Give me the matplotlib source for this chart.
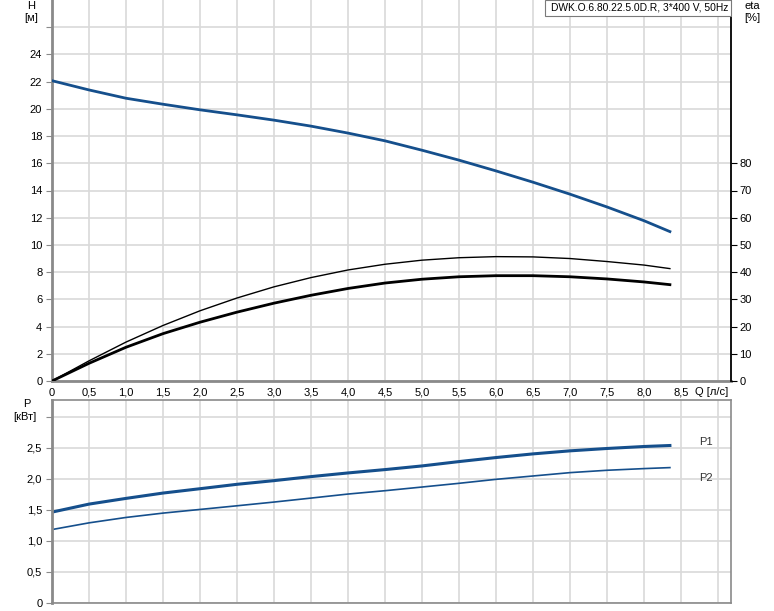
import numpy as np
import matplotlib
matplotlib.use("Agg")
import matplotlib.pyplot as plt

plt.rcParams["font.family"] = ["Liberation Sans", "DejaVu Sans"]

# DATA
q     = [0, 0.5, 1.0, 1.5, 2.0, 2.5, 3.0, 3.5, 4.0, 4.5, 5.0, 5.5, 6.0, 6.5, 7.0, 7.5, 8.0, 8.35]
head  = [22.07, 21.39, 20.78, 20.34, 19.93, 19.56, 19.17, 18.73, 18.22,
         17.65, 16.96, 16.23, 15.44, 14.61, 13.73, 12.79, 11.78, 10.98]
eta_p = [0, 7.4, 14.3, 20.4, 25.8, 30.5, 34.6, 38.0, 40.8,
         42.9, 44.4, 45.3, 45.7, 45.6, 45.0, 43.9, 42.6, 41.3]
eta_t = [0, 6.5, 12.4, 17.4, 21.6, 25.3, 28.6, 31.5, 34.0,
         36.0, 37.4, 38.3, 38.7, 38.7, 38.3, 37.5, 36.4, 35.4]
p1    = [1.464, 1.593, 1.685, 1.771, 1.841, 1.912, 1.971, 2.036, 2.095,
         2.149, 2.208, 2.278, 2.343, 2.402, 2.451, 2.489, 2.521, 2.537]
p2    = [1.183, 1.291, 1.378, 1.448, 1.507, 1.566, 1.626, 1.690, 1.755,
         1.809, 1.868, 1.928, 1.992, 2.046, 2.100, 2.138, 2.165, 2.181]

q_ticks   = [0, 0.5, 1.0, 1.5, 2.0, 2.5, 3.0, 3.5, 4.0, 4.5, 5.0, 5.5, 6.0, 6.5, 7.0, 7.5, 8.0, 8.5, 9.0]
q_labels  = ["0", "0,5", "1,0", "1,5", "2,0", "2,5", "3,0", "3,5", "4,0", "4,5",
             "5,0", "5,5", "6,0", "6,5", "7,0", "7,5", "8,0", "8,5", ""]
h_ticks   = [0, 2, 4, 6, 8, 10, 12, 14, 16, 18, 20, 22, 24, 26]
h_labels  = ["0", "2", "4", "6", "8", "10", "12", "14", "16", "18", "20", "22", "24", ""]
eta_ticks = [0, 10, 20, 30, 40, 50, 60, 70, 80]
p_ticks   = [0, 0.5, 1.0, 1.5, 2.0, 2.5, 3.0]
p_labels  = ["0", "0,5", "1,0", "1,5", "2,0", "2,5", ""]

TITLE = "DWK.O.6.80.22.5.0D.R, 3*400 V, 50Hz"

W, H = 774, 611
BLUE = "#154f8c"
GRID = "#d9d9d9"
SPINE = "#8a8a8a"
XMAX = 679 / 74.0

fig = plt.figure(figsize=(W / 100, H / 100), dpi=100)

def px_axes(l, t, r, b):
    return fig.add_axes([l / W, 1 - b / H, (r - l) / W, (b - t) / H])

ax = px_axes(52, 0, 731, 381)
ax2 = ax.twinx()
bx = px_axes(52, 400, 731, 603)

# ── top panel: head + efficiency ───────────────────────────
ax.plot(q, head, color=BLUE, lw=2.0, zorder=3)
ax.set_xlim(0, XMAX)
ax.set_ylim(0, 28.0)
ax.set_xticks(q_ticks)
ax.set_xticklabels(q_labels, fontsize=8)
ax.set_yticks(h_ticks)
ax.set_yticklabels(h_labels, fontsize=8)
ax.grid(True, color=GRID, lw=1.2)
ax.set_axisbelow(True)
ax.tick_params(axis="x", length=0, pad=5)
ax.tick_params(axis="y", length=4, color=SPINE, pad=3)
for s in ["left", "bottom"]:
    ax.spines[s].set_color(SPINE)
    ax.spines[s].set_linewidth(2)
ax.spines["top"].set_visible(False)
ax.spines["right"].set_visible(False)

ax2.plot(q, eta_p, color="black", lw=1.0)
ax2.plot(q, eta_t, color="black", lw=2.0)
ax2.set_ylim(0, 28.0 * 5)
ax2.set_yticks(eta_ticks)
ax2.set_yticklabels([str(t) for t in eta_ticks], fontsize=8)
ax2.tick_params(axis="y", length=4, color="black", pad=2)
ax2.spines["right"].set_color("black")
ax2.spines["right"].set_linewidth(1.3)
for s in ["left", "top", "bottom"]:
    ax2.spines[s].set_visible(False)

# title box in the top right corner
box = plt.Rectangle((545 / W, 1 - 16 / H), 186 / W, 16 / H, transform=fig.transFigure,
                    facecolor="white", edgecolor="#7a7a7a", lw=0.8, zorder=5)
fig.patches.append(box)
fig.text(728 / W, 1 - 8 / H, TITLE, fontsize=7.4, ha="right", va="center", zorder=6)

# axis titles
fig.text(31 / W, 1 - 6 / H, "H", fontsize=8, ha="center", va="center")
fig.text(31 / W, 1 - 18 / H, "[м]", fontsize=8, ha="center", va="center")
fig.text(752 / W, 1 - 6 / H, "eta", fontsize=8, ha="center", va="center")
fig.text(752 / W, 1 - 18 / H, "[%]", fontsize=8, ha="center", va="center")
fig.text(712 / W, 1 - 392 / H, "Q [л/с]", fontsize=8, ha="center", va="center")

# ── bottom panel: power ────────────────────────────────────
bx.plot(q, p1, color=BLUE, lw=2.2)
bx.plot(q, p2, color=BLUE, lw=1.2)
bx.set_xlim(0, XMAX)
bx.set_ylim(0, 3.27)
bx.set_xticks(q_ticks)
bx.set_xticklabels([])
bx.set_yticks(p_ticks)
bx.set_yticklabels(p_labels, fontsize=8)
bx.grid(True, color=GRID, lw=1.2)
bx.set_axisbelow(True)
bx.tick_params(axis="x", length=0)
bx.tick_params(axis="y", length=4, color=SPINE, pad=3)
for s in ["left", "top", "right", "bottom"]:
    bx.spines[s].set_color(SPINE)
    bx.spines[s].set_linewidth(1.2)
bx.spines["left"].set_linewidth(2)

bx.text(8.75, 2.6, "P1", fontsize=8, ha="left", va="center", color="#333333")
bx.text(8.75, 2.02, "P2", fontsize=8, ha="left", va="center", color="#333333")

fig.text(27 / W, 1 - 404 / H, "P", fontsize=8, ha="center", va="center")
fig.text(25 / W, 1 - 417 / H, "[кВт]", fontsize=8, ha="center", va="center")

fig.savefig("out.png", dpi=100)
